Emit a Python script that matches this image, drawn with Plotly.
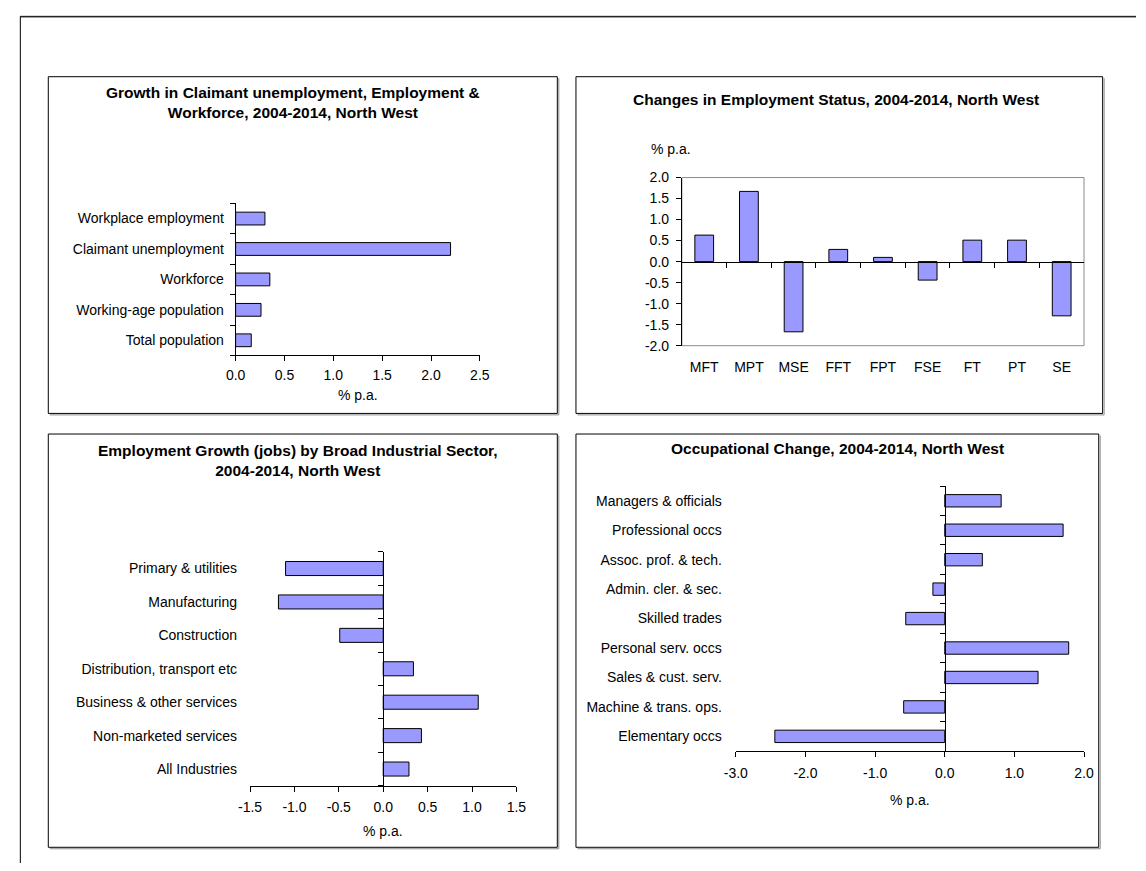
import plotly.graph_objects as go

W, H = 1146, 871

# Growth in claimant unemployment, employment & workforce, 2004-2014 (% p.a.)
labour_cats = ["Workplace employment", "Claimant unemployment", "Workforce",
               "Working-age population", "Total population"]
labour_vals = [0.30, 2.20, 0.35, 0.26, 0.16]
labour_ticks = [0.0, 0.5, 1.0, 1.5, 2.0, 2.5]

# Changes in employment status, 2004-2014 (% p.a.)
status_cats = ["MFT", "MPT", "MSE", "FFT", "FPT", "FSE", "FT", "PT", "SE"]
status_vals = [0.63, 1.67, -1.67, 0.29, 0.10, -0.44, 0.51, 0.51, -1.29]
status_ticks = [2.0, 1.5, 1.0, 0.5, 0.0, -0.5, -1.0, -1.5, -2.0]

# Employment growth (jobs) by broad industrial sector, 2004-2014 (% p.a.)
sector_cats = ["Primary & utilities", "Manufacturing", "Construction",
               "Distribution, transport etc", "Business & other services",
               "Non-marketed services", "All Industries"]
sector_vals = [-1.10, -1.18, -0.49, 0.34, 1.07, 0.43, 0.29]
sector_ticks = [-1.5, -1.0, -0.5, 0.0, 0.5, 1.0, 1.5]

# Occupational change, 2004-2014 (% p.a.)
occ_cats = ["Managers & officials", "Professional occs", "Assoc. prof. & tech.",
            "Admin. cler. & sec.", "Skilled trades", "Personal serv. occs",
            "Sales & cust. serv.", "Machine & trans. ops.", "Elementary occs"]
occ_vals = [0.81, 1.70, 0.54, -0.17, -0.56, 1.78, 1.34, -0.59, -2.44]
occ_ticks = [-3.0, -2.0, -1.0, 0.0, 1.0, 2.0]

FONT = "Arial, 'Liberation Sans', sans-serif"
BAR_FILL = "#9999FF"
TXT = 14
TITLE = 15.5


def fx(px):
    return px / W


def fy(py):
    return 1 - py / H


def tick_text(vals):
    # plain hyphen-minus, one decimal place
    return [f"{v:.1f}" for v in vals]


bar_style = dict(marker=dict(color=BAR_FILL, line=dict(color="black", width=1)),
                 width=0.42, hoverinfo="skip", showlegend=False)

fig = go.Figure()

# horizontal bars, first category at the top
fig.add_trace(go.Bar(x=labour_vals, y=labour_cats, orientation="h",
                     xaxis="x", yaxis="y", **bar_style))
fig.add_trace(go.Bar(x=status_cats, y=status_vals,
                     xaxis="x2", yaxis="y2", **bar_style))
fig.add_trace(go.Bar(x=sector_vals, y=sector_cats, orientation="h",
                     xaxis="x3", yaxis="y3", **bar_style))
fig.add_trace(go.Bar(x=occ_vals, y=occ_cats, orientation="h",
                     xaxis="x4", yaxis="y4", **bar_style))

# invisible companions that carry the category axes drawn through zero
ghost = dict(mode="markers", marker=dict(opacity=0, size=1),
             hoverinfo="skip", showlegend=False)
fig.add_trace(go.Scatter(x=status_cats, y=status_vals, xaxis="x6", yaxis="y2", **ghost))
fig.add_trace(go.Scatter(x=sector_vals, y=sector_cats, xaxis="x3", yaxis="y7", **ghost))
fig.add_trace(go.Scatter(x=occ_vals, y=occ_cats, xaxis="x4", yaxis="y8", **ghost))

tick_font = dict(family=FONT, size=TXT, color="black")
common = dict(showgrid=False, zeroline=False, tickfont=tick_font, fixedrange=True)
value_axis = dict(common, showline=True, linecolor="black", linewidth=1,
                  ticks="outside", ticklen=5, tickcolor="black")
cat_line_axis = dict(common, type="category", tickson="boundaries", showline=True,
                     linecolor="black", linewidth=1, ticks="outside", ticklen=5,
                     tickcolor="black")
cat_label_axis = dict(common, type="category", showline=False, ticks="")


def zero_pos(lo_px, hi_px, lo_val, hi_val):
    return lo_px + (0 - lo_val) / (hi_val - lo_val) * (hi_px - lo_px)


# panel geometry (pixels)
tl_x, tl_y = (228, 477), (199, 354)
tr_x, tr_y = (683, 1093), (172.7, 344)
bl_x, bl_y = (242.7, 514.3), (554, 792.3)
br_x, br_y = (738, 1093), (487, 757)

tr_zero = zero_pos(tr_y[1], tr_y[0], -2, 2)
bl_zero = zero_pos(bl_x[0], bl_x[1], -1.5, 1.5)
br_zero = zero_pos(br_x[0], br_x[1], -3, 2)

fig.update_layout(
    width=W, height=H, margin=dict(l=0, r=0, t=0, b=0),
    paper_bgcolor="white", plot_bgcolor="rgba(0,0,0,0)",
    font=dict(family=FONT, size=TXT, color="black"),
    barmode="overlay", showlegend=False,
    # top left
    xaxis=dict(value_axis, domain=[fx(tl_x[0]), fx(tl_x[1])], anchor="y",
               range=[0, 2.5], tickvals=labour_ticks,
               ticktext=tick_text(labour_ticks), ticklabelstandoff=2),
    yaxis=dict(cat_line_axis, domain=[fy(tl_y[1]), fy(tl_y[0])], anchor="x",
               categoryorder="array", categoryarray=labour_cats[::-1],
               range=[-0.5, len(labour_cats) - 0.5], ticklabelstandoff=8),
    # top right
    xaxis2=dict(cat_label_axis, domain=[fx(tr_x[0]), fx(tr_x[1])], anchor="y2",
                categoryorder="array", categoryarray=status_cats,
                range=[-0.5, len(status_cats) - 0.5], ticklabelstandoff=11),
    yaxis2=dict(value_axis, domain=[fy(tr_y[1]), fy(tr_y[0])], anchor="x2",
                range=[-2, 2], tickvals=status_ticks,
                ticktext=tick_text(status_ticks), ticklabelstandoff=4),
    xaxis6=dict(cat_line_axis, overlaying="x2", anchor="free", position=fy(tr_zero),
                categoryorder="array", categoryarray=status_cats,
                range=[-0.5, len(status_cats) - 0.5], showticklabels=False),
    # bottom left
    xaxis3=dict(value_axis, domain=[fx(bl_x[0]), fx(bl_x[1])], anchor="y3",
                range=[-1.5, 1.5], tickvals=sector_ticks,
                ticktext=tick_text(sector_ticks), ticklabelstandoff=3),
    yaxis3=dict(cat_label_axis, domain=[fy(bl_y[1]), fy(bl_y[0])], anchor="x3",
                categoryorder="array", categoryarray=sector_cats[::-1],
                range=[-0.5, len(sector_cats) - 0.5], ticklabelstandoff=12),
    yaxis7=dict(cat_line_axis, overlaying="y3", anchor="free", position=fx(bl_zero),
                categoryorder="array", categoryarray=sector_cats[::-1],
                range=[-0.5, len(sector_cats) - 0.5], showticklabels=False),
    # bottom right
    xaxis4=dict(value_axis, domain=[fx(br_x[0]), fx(br_x[1])], anchor="y4",
                range=[-3, 2], tickvals=occ_ticks,
                ticktext=tick_text(occ_ticks), ticklabelstandoff=4),
    yaxis4=dict(cat_label_axis, domain=[fy(br_y[1]), fy(br_y[0])], anchor="x4",
                categoryorder="array", categoryarray=occ_cats[::-1],
                range=[-0.5, len(occ_cats) - 0.5], ticklabelstandoff=13),
    yaxis8=dict(cat_line_axis, overlaying="y4", anchor="free", position=fx(br_zero),
                categoryorder="array", categoryarray=occ_cats[::-1],
                range=[-0.5, len(occ_cats) - 0.5], showticklabels=False),
)

shapes = []


def line(x0, y0, x1, y1, color="black", width=1):
    shapes.append(dict(type="line", xref="paper", yref="paper",
                       x0=fx(x0), y0=fy(y0), x1=fx(x1), y1=fy(y1),
                       line=dict(color=color, width=width)))


def box(x0, y0, x1, y1):
    # soft shadow on the lower and right edges, then the frame itself
    line(x0 + 1.5, y1 + 1.5, x1 + 1.5, y1 + 1.5, color="#8a8a8a")
    line(x1 + 1.5, y0 + 1.5, x1 + 1.5, y1 + 1.5, color="#8a8a8a")
    shapes.append(dict(type="rect", xref="paper", yref="paper",
                       x0=fx(x0), y0=fy(y1), x1=fx(x1), y1=fy(y0),
                       line=dict(color="black", width=1), layer="below"))


# outer frame (top and left edges only)
line(8.5, 9.5, W, 9.5, color="#8a8a8a")
line(8.5, 8.5, W, 8.5)
line(8.5, 8.5, 8.5, H)

box(37, 70, 556, 413)
box(575, 70, 1112, 413)
box(37, 434, 556, 855)
box(575, 434, 1108, 855)

# grey plot-area border of the employment status panel
shapes.append(dict(type="rect", xref="paper", yref="paper",
                   x0=fx(tr_x[0]), y0=fy(tr_y[1]), x1=fx(tr_x[1]), y1=fy(tr_y[0]),
                   line=dict(color="#8c8c8c", width=1), layer="below"))

fig.update_layout(shapes=shapes)


def text(x, y, s, bold=False, size=TXT):
    fig.add_annotation(x=fx(x), y=fy(y), xref="paper", yref="paper",
                       text=f"<b>{s}</b>" if bold else s, showarrow=False,
                       xanchor="center", yanchor="middle",
                       font=dict(family=FONT, size=size, color="black"))


text(287, 96, "Growth in Claimant unemployment, Employment &<br>"
              "Workforce, 2004-2014, North West", bold=True, size=TITLE)
text(840, 93, "Changes in Employment Status, 2004-2014, North West",
     bold=True, size=TITLE)
text(292, 461, "Employment Growth (jobs) by Broad Industrial Sector,<br>"
               "2004-2014, North West", bold=True, size=TITLE)
text(842, 449, "Occupational Change, 2004-2014, North West", bold=True, size=TITLE)

text((tl_x[0] + tl_x[1]) / 2, 394, "% p.a.")
text(672, 144, "% p.a.")
text(bl_zero, 838, "% p.a.")
text((br_x[0] + br_x[1]) / 2, 807, "% p.a.")

# keep the page flush with the window edges
fig.write_html("out.html",
               post_script="document.body.style.margin='0';"
                           "document.body.style.overflow='hidden';")
